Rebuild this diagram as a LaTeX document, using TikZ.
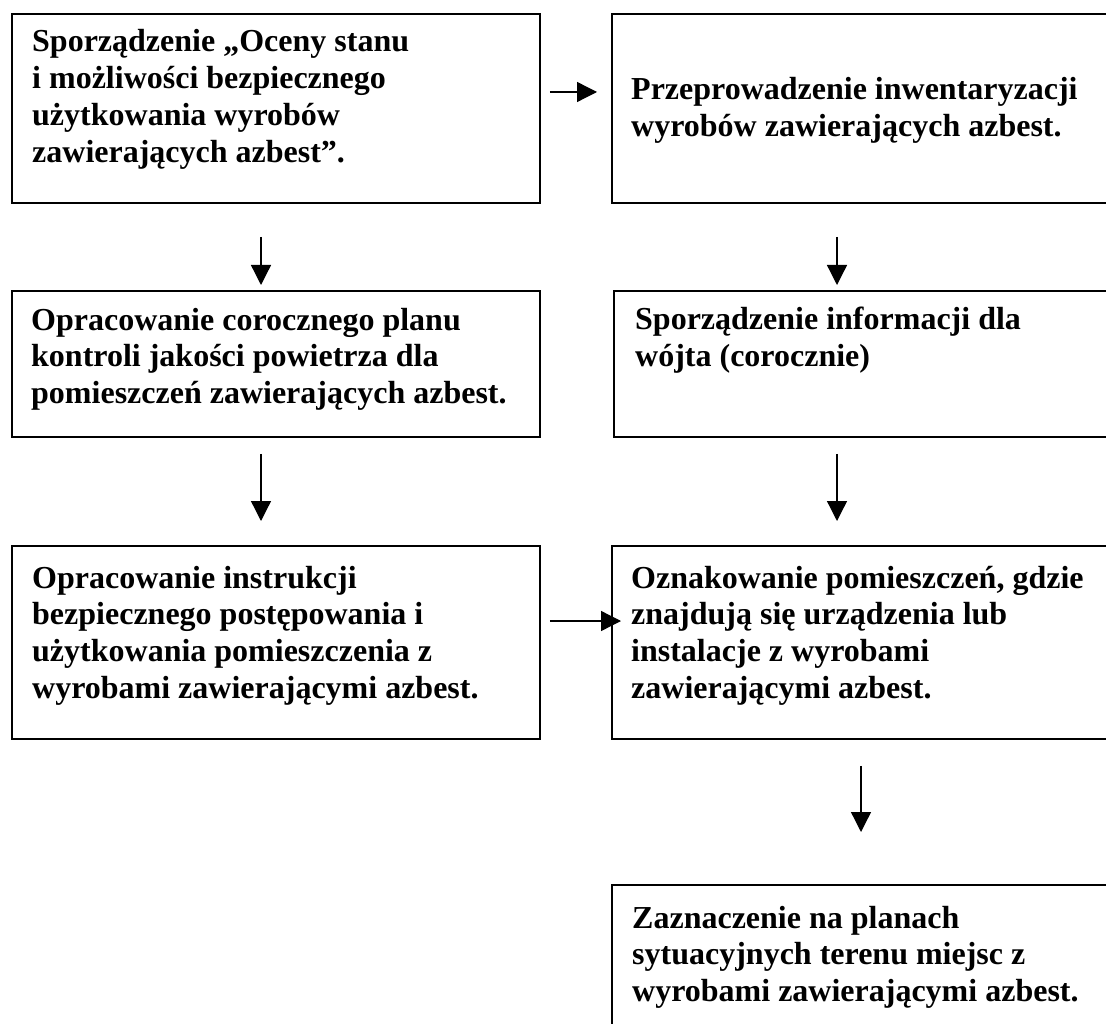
\documentclass[tikz,border=0pt]{standalone}
\usepackage{fontspec}
\setmainfont{Liberation Serif}
\usetikzlibrary{arrows.meta}
\tikzset{
  box/.style={draw=black, line width=1.9pt, rectangle, inner sep=0pt, anchor=north west},
  txt/.style={anchor=base west, align=left, inner sep=0pt,
    font=\fontsize{32}{36.8}\selectfont\bfseries},
  arr/.style={line width=1.3pt, -{Triangle[length=20pt,width=20pt]}}
}
\begin{document}
\begin{tikzpicture}[x=1pt,y=-1pt]
\useasboundingbox (0,0) rectangle (1106,1024);
\clip (0,0) rectangle (1106,1024);
% boxes
\node[box, minimum width=528.3pt, minimum height=189pt] (b1) at (10.7,13) {};
\node[box, minimum width=520pt, minimum height=189pt] (b2) at (611,13) {};
\node[box, minimum width=528pt, minimum height=146pt] (b3) at (11,290) {};
\node[box, minimum width=520pt, minimum height=146pt] (b4) at (613,290) {};
\node[box, minimum width=528pt, minimum height=193pt] (b5) at (11,545) {};
\node[box, minimum width=520pt, minimum height=193pt] (b6) at (611,545) {};
\node[box, minimum width=520pt, minimum height=170pt] (b7) at (611,884) {};
% texts (anchored at the baseline of the last line)
\node[txt] (t1) at (32,162.4) {Sporządzenie „Oceny stanu\\i możliwości bezpiecznego\\użytkowania wyrobów\\zawierających azbest”.};
\node[txt] (t2) at (631,136.8) {Przeprowadzenie inwentaryzacji\\wyrobów zawierających azbest.};
\node[txt] (t3) at (31,403.6) {Opracowanie corocznego planu\\kontroli jakości powietrza dla\\pomieszczeń zawierających azbest.};
\node[txt] (t4) at (635,366.8) {Sporządzenie informacji dla\\wójta (corocznie)};
\node[txt] (t5) at (32,698.4) {Opracowanie instrukcji\\bezpiecznego postępowania i\\użytkowania pomieszczenia z\\wyrobami zawierającymi azbest.};
\node[txt] (t6) at (631,698.4) {Oznakowanie pomieszczeń, gdzie\\znajdują się urządzenia lub\\instalacje z wyrobami\\zawierającymi azbest.};
\node[txt] (t7) at (632,1001.6) {Zaznaczenie na planach\\sytuacyjnych terenu miejsc z\\wyrobami zawierającymi azbest.};
% guide coordinates
\coordinate (cl) at (261,0);
\coordinate (cr) at (837,0);
\coordinate (cr3) at (861,0);
\coordinate (r1) at (0,92);
\coordinate (r2) at (0,621);
% connectors
\draw[arr, shorten <=9pt, shorten >=14pt] (b1.east |- r1) -- (b2.west |- r1);
\draw[arr, shorten <=33pt, shorten >=5pt] (b1.south -| cl) -- (b3.north -| cl);
\draw[arr, shorten <=33pt, shorten >=5pt] (b2.south -| cr) -- (b4.north -| cr);
\draw[arr, shorten <=16pt, shorten >=24pt] (b3.south -| cl) -- (b5.north -| cl);
\draw[arr, shorten <=16pt, shorten >=24pt] (b4.south -| cr) -- (b6.north -| cr);
\draw[arr, shorten <=9pt, shorten >=-10pt] (b5.east |- r2) -- (b6.west |- r2);
\draw[arr, shorten <=26pt, shorten >=52pt] (b6.south -| cr3) -- (b7.north -| cr3);
\end{tikzpicture}
\end{document}
